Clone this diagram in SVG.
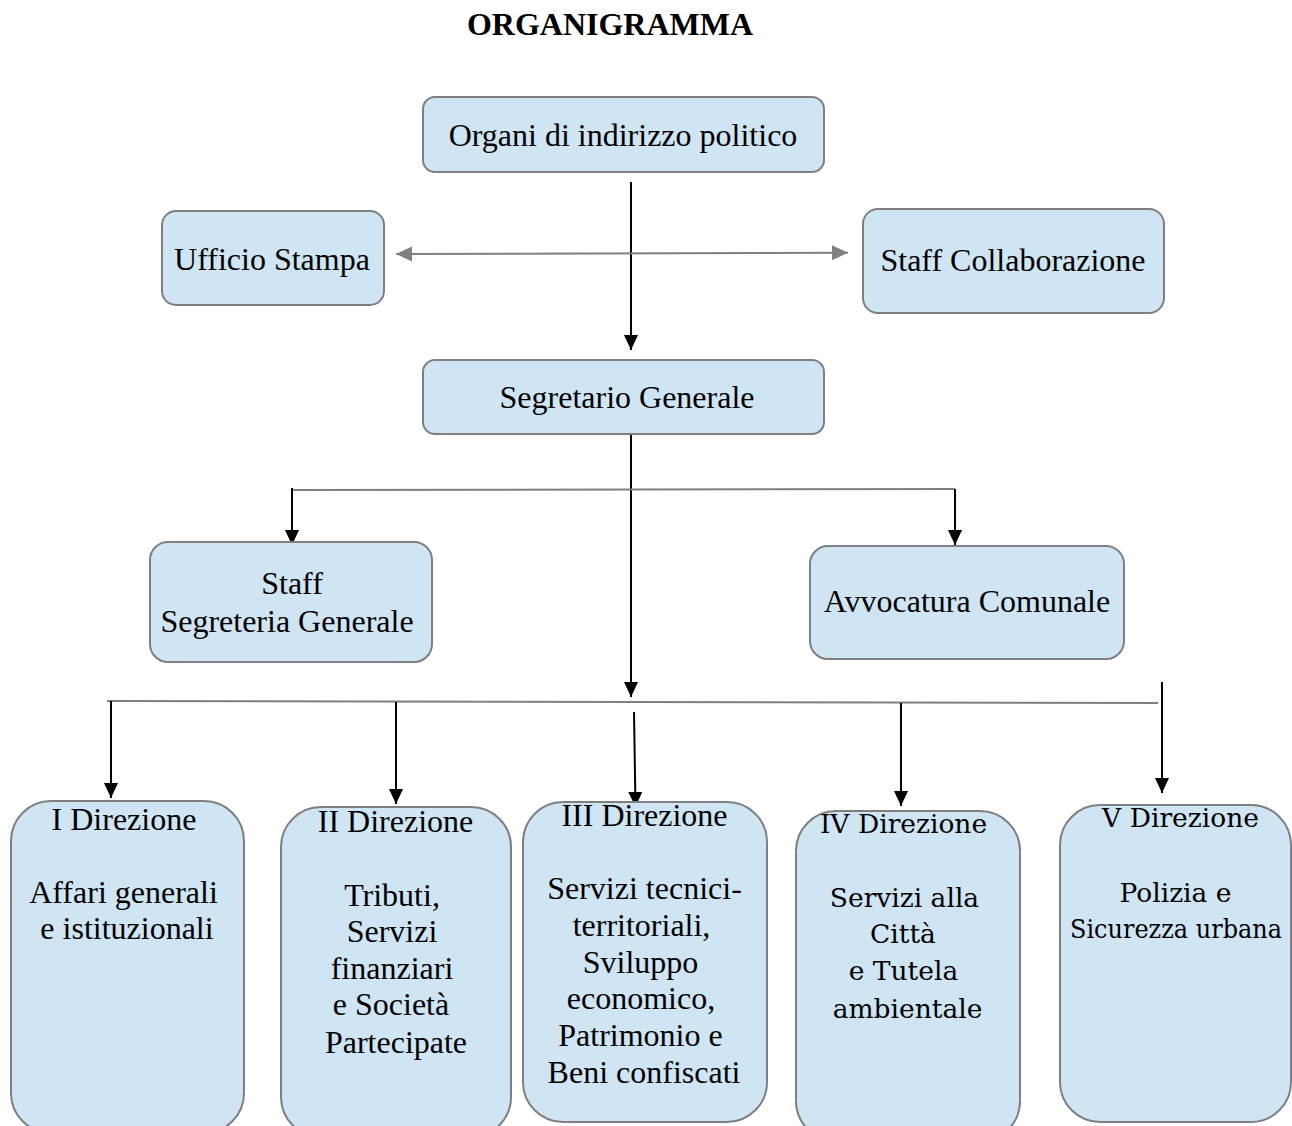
<svg xmlns="http://www.w3.org/2000/svg" width="1292" height="1126" viewBox="0 0 1292 1126">
<defs>
<style>
.box{fill:#cfe5f3;stroke:#7f7f7f;stroke-width:2}
.t{font-family:"Liberation Serif","Times New Roman",serif;font-size:32px;fill:#000;text-anchor:middle}
.t2{font-family:"DejaVu Serif",serif;font-size:26.5px;fill:#000;text-anchor:middle}
.title{font-family:"Liberation Serif","Times New Roman",serif;font-size:32px;font-weight:bold;fill:#000;text-anchor:middle}
.blk{stroke:#000;stroke-width:2;fill:none}
.gry{stroke:#7f7f7f;stroke-width:2;fill:none}
</style>
<marker id="ab" markerUnits="userSpaceOnUse" markerWidth="15" markerHeight="14" viewBox="0 0 15 14" refX="15" refY="7" orient="auto"><path d="M0,0 L15,7 L0,14 z" fill="#000"/></marker>
<marker id="ag" markerUnits="userSpaceOnUse" markerWidth="16" markerHeight="15" viewBox="0 0 16 15" refX="16" refY="7.5" orient="auto-start-reverse"><path d="M0,0 L16,7.5 L0,15 z" fill="#7f7f7f"/></marker>
</defs>
<rect width="1292" height="1126" fill="#fff"/>
<text class="title" x="610" y="35">ORGANIGRAMMA</text>

<g id="connectors">
<line class="blk" x1="631" y1="182" x2="631" y2="350" marker-end="url(#ab)"/>
<line class="gry" x1="396" y1="254" x2="848" y2="252.7" marker-start="url(#ag)" marker-end="url(#ag)"/>
<line class="blk" x1="631" y1="434" x2="631" y2="697" marker-end="url(#ab)"/>
<line class="gry" x1="292" y1="490" x2="955" y2="489"/>
<line class="blk" x1="292" y1="488" x2="292" y2="545" marker-end="url(#ab)"/>
<line class="blk" x1="955" y1="489" x2="955" y2="545" marker-end="url(#ab)"/>
<line class="gry" x1="107" y1="701" x2="1158" y2="703"/>
<line class="blk" x1="111" y1="701" x2="111" y2="798" marker-end="url(#ab)"/>
<line class="blk" x1="396" y1="702" x2="396" y2="804" marker-end="url(#ab)"/>
<line class="blk" x1="634" y1="712" x2="635.5" y2="807" marker-end="url(#ab)"/>
<line class="blk" x1="901" y1="703" x2="901" y2="806" marker-end="url(#ab)"/>
<line class="blk" x1="1162" y1="682" x2="1162" y2="793" marker-end="url(#ab)"/>
</g>

<g id="organi">
<rect class="box" x="423" y="97" width="401" height="75" rx="12"/>
<text class="t" x="623" y="146">Organi di indirizzo politico</text>
</g>
<g id="ufficio-stampa">
<rect class="box" x="162" y="211" width="222" height="94" rx="14"/>
<text class="t" x="272" y="270">Ufficio Stampa</text>
</g>
<g id="staff-collaborazione">
<rect class="box" x="863" y="209" width="301" height="104" rx="15"/>
<text class="t" x="1013" y="271">Staff Collaborazione</text>
</g>
<g id="segretario">
<rect class="box" x="423" y="360" width="401" height="74" rx="12"/>
<text class="t" x="627" y="408">Segretario Generale</text>
</g>
<g id="staff-segreteria">
<rect class="box" x="150" y="542" width="282" height="120" rx="18"/>
<text class="t" x="292" y="594">Staff</text>
<text class="t" x="287" y="632">Segreteria Generale</text>
</g>
<g id="avvocatura">
<rect class="box" x="810" y="546" width="314" height="113" rx="18"/>
<text class="t" x="967" y="612">Avvocatura Comunale</text>
</g>
<g id="dir1">
<rect class="box" x="11" y="801" width="233" height="332" rx="40"/>
<text class="t" x="124" y="830">I Direzione</text>
<text class="t" x="123.5" y="903">Affari generali</text>
<text class="t" x="127" y="939">e istituzionali</text>
</g>
<g id="dir2">
<rect class="box" x="281" y="807" width="230" height="330" rx="40"/>
<text class="t" x="395.5" y="832">II Direzione</text>
<text class="t" x="392" y="906">Tributi,</text>
<text class="t" x="392" y="942">Servizi</text>
<text class="t" x="392" y="979">finanziari</text>
<text class="t" x="391" y="1015">e Società</text>
<text class="t" x="396" y="1053">Partecipate</text>
</g>
<g id="dir3">
<rect class="box" x="523" y="802" width="244" height="320" rx="40"/>
<text class="t" x="644.5" y="826">III Direzione</text>
<text class="t" x="644.5" y="899">Servizi tecnici-</text>
<text class="t" x="641.5" y="936">territoriali,</text>
<text class="t" x="640.5" y="973">Sviluppo</text>
<text class="t" x="641" y="1009">economico,</text>
<text class="t" x="640.5" y="1046">Patrimonio e</text>
<text class="t" x="644" y="1083">Beni confiscati</text>
</g>
<g id="dir4">
<rect class="box" x="796" y="811" width="224" height="330" rx="40"/>
<text class="t2" x="903.5" y="833">IV Direzione</text>
<text class="t2" x="904.5" y="907">Servizi alla</text>
<text class="t2" x="903" y="943">Città</text>
<text class="t2" x="903.5" y="980">e Tutela</text>
<text class="t2" x="907.5" y="1018">ambientale</text>
</g>
<g id="dir5">
<rect class="box" x="1060" y="805" width="231" height="317" rx="40"/>
<text class="t2" x="1180.5" y="827">V Direzione</text>
<text class="t2" x="1175.5" y="902">Polizia e</text>
<text class="t2" x="1176" y="938" textLength="212" lengthAdjust="spacingAndGlyphs">Sicurezza urbana</text>
</g>
</svg>
